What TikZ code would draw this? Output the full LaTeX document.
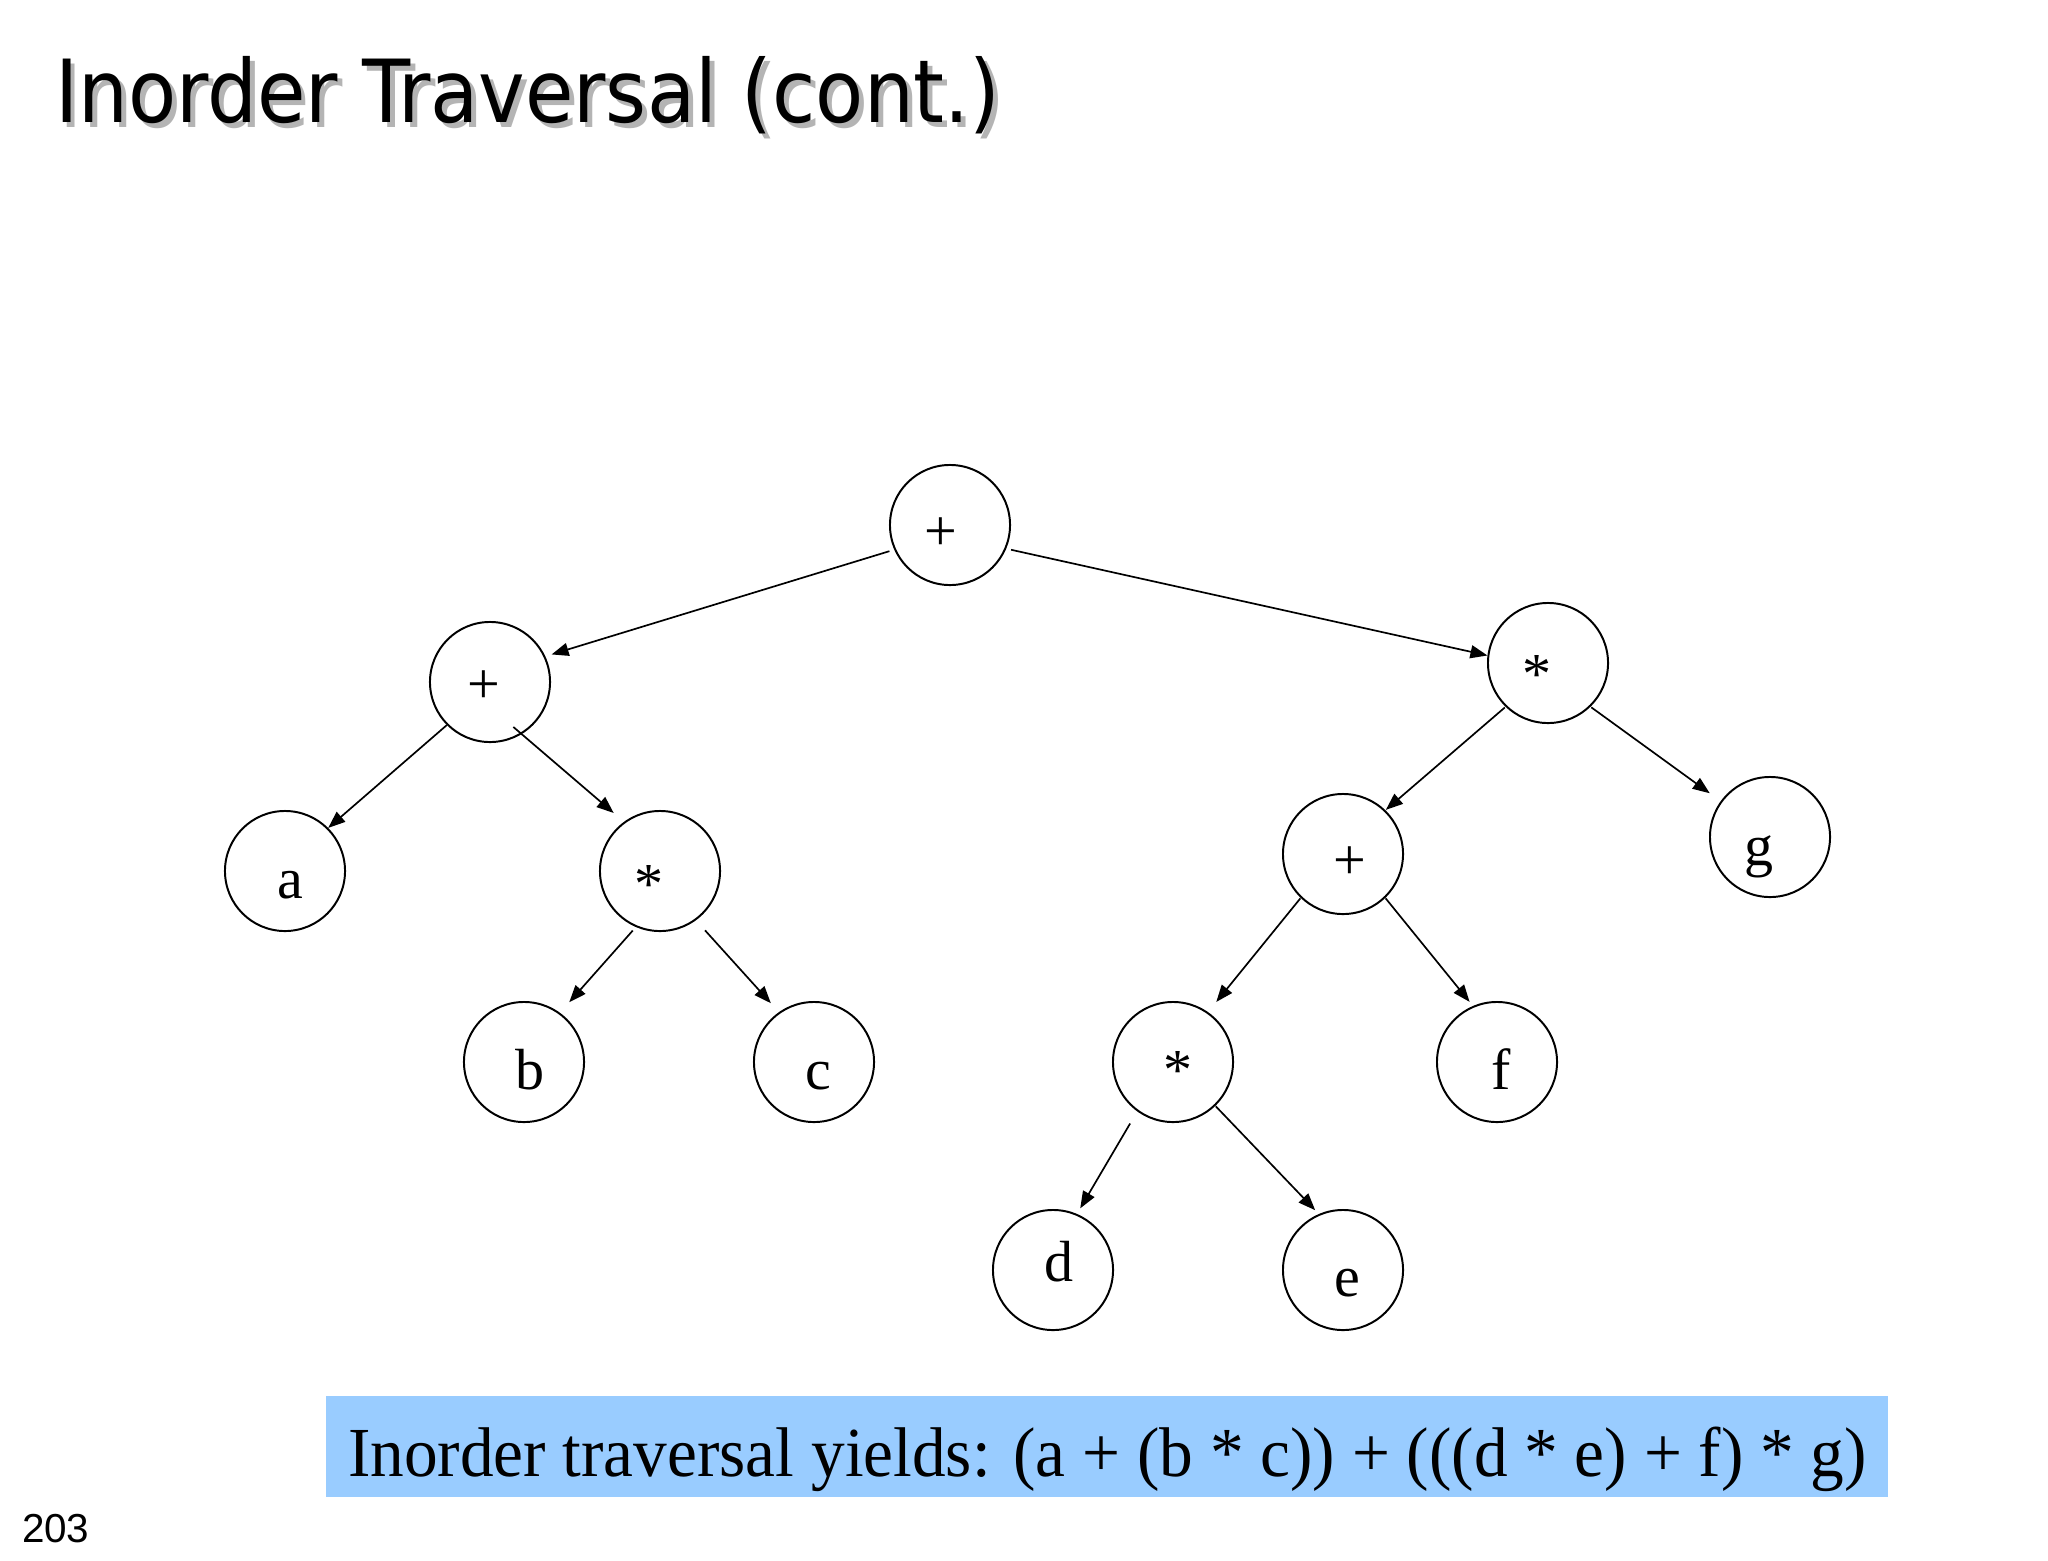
\documentclass[tikz,border=0pt]{standalone}
\usepackage{fontspec}
\usepackage{graphicx}
\setmainfont{Liberation Serif}
\newfontfamily\titlefont{DejaVu Sans Condensed}
\newfontfamily\numfont{Liberation Sans}
\usetikzlibrary{arrows.meta}
\definecolor{boxblue}{HTML}{99CCFF}
\definecolor{shadowgray}{HTML}{B4B4B4}
\begin{document}
\begin{tikzpicture}[x=0.01cm, y=-0.01cm,
  tnode/.style={circle, draw, line width=0.56pt, minimum size=1.2cm, inner sep=0pt, outer sep=0pt},
  lbl/.style={inner sep=0pt, outer sep=0pt, font=\fontsize{16.5}{18}\selectfont},
  arr/.style={line width=0.48pt, -{Triangle[length=0.17cm,width=0.13cm]}},
  ttl/.style={anchor=base west, inner sep=0pt, outer sep=0pt, font=\titlefont\fontsize{24.75}{30}\selectfont},
]
\useasboundingbox[fill=white] (0,0) rectangle (2048,1560);

% title with shadow
\node[ttl, text=shadowgray] (tshadow) at (60,127) {\resizebox{9.45cm}{\height}{Inorder Traversal (cont.)}};
\node[ttl] (title) at (55,122) {\resizebox{9.45cm}{\height}{Inorder Traversal (cont.)}};

% tree nodes
\node[tnode] (r)   at (950,525)  {};
\node[tnode] (lp)  at (490,682)  {};
\node[tnode] (rs)  at (1548,663) {};
\node[tnode] (a)   at (285,871)  {};
\node[tnode] (ls)  at (660,871)  {};
\node[tnode] (b)   at (524,1062) {};
\node[tnode] (c)   at (814,1062) {};
\node[tnode] (rp)  at (1343,854) {};
\node[tnode] (g)   at (1770,837) {};
\node[tnode] (lws) at (1173,1062) {};
\node[tnode] (f)   at (1497,1062) {};
\node[tnode] (d)   at (1053,1270) {};
\node[tnode] (e)   at (1343,1270) {};

% labels
\node[lbl] (tr)  at (941,534) {+};
\node[lbl] (tlp) at (484,687) {+};
\node[lbl] (ta)  at (290,885) {a};
\node[lbl, anchor=north] (tls) at (649,865) {*};
\node[lbl] (tb)  at (529.5,1070) {b};
\node[lbl] (tc)  at (818,1076) {c};
\node[lbl, anchor=north] (trs) at (1536.5,655) {*};
\node[lbl] (tg)  at (1759,857) {g};
\node[lbl] (trp) at (1350,863) {+};
\node[lbl, anchor=north] (tlws) at (1178,1051) {*};
\node[lbl] (tf)  at (1501,1069.5) {f};
\node[lbl] (td)  at (1059,1261.5) {d};
\node[lbl] (te)  at (1347.5,1283.5) {e};

% edges
\draw[arr, shorten <=0.06cm, shorten >=0.075cm] (r.204) -- (lp.25);
\draw[arr, shorten <=0.06cm, shorten >=0.01cm] (r.337) -- (rs.173);
\draw[arr, shorten <=0.01cm, shorten >=0.01cm] (lp.225) -- (a.45);
\draw[arr, shorten <=-0.1cm, shorten >=0.145cm] (lp.301) -- (ls.126);
\draw[arr, shorten <=0.057cm, shorten >=0.15cm] (ls.247) -- (b.54);
\draw[arr, shorten <=0.145cm, shorten >=0.13cm] (ls.306) -- (c.125);
\draw[arr, shorten <=0.02cm, shorten >=0.015cm] (rs.226) -- (rp.46);
\draw[arr, shorten <=0.02cm, shorten >=0.144cm] (rs.314) -- (g.144);
\draw[arr, shorten <=0.015cm, shorten >=0.14cm] (rp.226) -- (lws.55);
\draw[arr, shorten <=0.015cm, shorten >=0.063cm] (rp.314) -- (f.113);
\draw[arr, shorten <=0.15cm, shorten >=0.074cm] (lws.234) -- (d.67);
\draw[arr, shorten <=0.015cm, shorten >=0.063cm] (lws.314) -- (e.113);

% result box
\node[fill=boxblue, minimum width=15.61cm, minimum height=1.01cm, anchor=north west, inner sep=0pt, outer sep=0pt] (box) at (326,1396) {};
\node[anchor=base west, inner sep=0pt, outer sep=0pt, font=\fontsize{20}{24}\selectfont] (res) at (348,1476) {\resizebox{15.18cm}{\height}{Inorder traversal yields: (a + (b * c)) + (((d * e) + f) * g)}};

% page number
\node[anchor=base west, inner sep=0pt, outer sep=0pt, font=\numfont\fontsize{11.5}{14}\selectfont] (pn) at (22,1542) {203};
\end{tikzpicture}
\end{document}
